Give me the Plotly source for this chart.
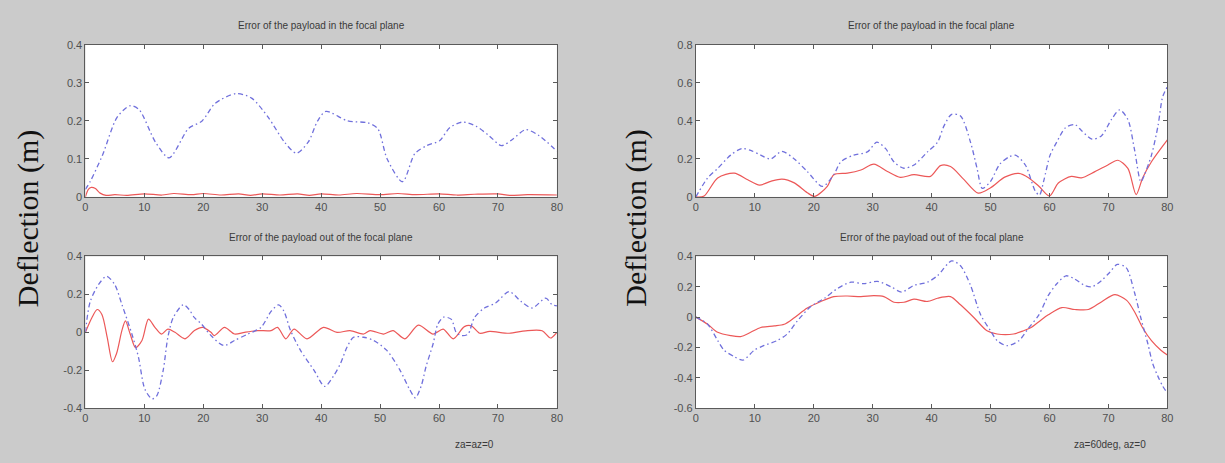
import plotly.graph_objects as go

# ---------------- data ----------------
x_ticks = [0, 10, 20, 30, 40, 50, 60, 70, 80]

# Panel 1 (left top): in focal plane, za=az=0
p1_blue_x = [0, 0.8, 2.9, 5.4, 7.6, 9.1, 11.9, 14.2, 17.5, 19.8, 22, 25.6, 28.2, 31, 33.8, 35.8, 37.8, 39.4, 40.8,
             44.5, 47.9, 49.6, 51.2, 53.8, 55.9, 57.9, 60.1, 61.8, 64, 66.3, 68.5, 70.6, 72.5, 74.7, 77, 80]
p1_blue_y = [0.02, 0.04, 0.11, 0.21, 0.24, 0.23, 0.144, 0.103, 0.18, 0.2, 0.246, 0.272, 0.26, 0.21, 0.144, 0.115,
             0.144, 0.2, 0.225, 0.2, 0.195, 0.18, 0.1, 0.04, 0.114, 0.135, 0.148, 0.182, 0.197, 0.186, 0.161, 0.135,
             0.152, 0.177, 0.161, 0.12]
p1_red_x = [0, 0.5, 1, 1.7, 2.5, 3.5, 5, 7, 10, 13, 15, 18, 20, 23, 26, 28, 30, 33, 36, 38, 40, 43, 46, 50, 53,
            56, 60, 63, 66, 70, 72, 75, 80]
p1_red_y = [0.0, 0.02, 0.025, 0.022, 0.01, 0.004, 0.006, 0.004, 0.008, 0.005, 0.009, 0.006, 0.009, 0.005, 0.008,
            0.004, 0.008, 0.005, 0.008, 0.004, 0.008, 0.005, 0.009, 0.006, 0.009, 0.006, 0.008, 0.005, 0.007,
            0.008, 0.004, 0.006, 0.005]

# Panel 2 (left bottom): out of focal plane, za=az=0
p2_blue_x = [0, 0.8, 2.2, 3.6, 5, 6.2, 7.9, 9, 10.1, 11.3, 12.1, 13.2, 14, 14.9, 16.6, 17.6, 18.5, 19.7, 21.3,
             23.5, 25.3, 27.5, 29.8, 31.5, 32.8, 33.7, 34.8, 36.5, 38.8, 40.6, 42.1, 43.3, 44.4, 45.5, 47.2, 48.9,
             51.1, 53.4, 55, 56, 57, 57.8, 59, 59.8, 60.8, 62.1, 62.9, 63.8, 64.9, 66, 67.7, 69.6, 71.9, 73.9,
             75.8, 78.1, 79.2, 80]
p2_blue_y = [0, 0.16, 0.25, 0.295, 0.25, 0.146, -0.01, -0.13, -0.30, -0.35, -0.335, -0.2, -0.025, 0.077, 0.145,
             0.12, 0.077, 0.043, -0.017, -0.07, -0.043, -0.01, 0.026, 0.11, 0.145, 0.11, 0.01, -0.095, -0.2,
             -0.285, -0.23, -0.163, -0.077, -0.026, -0.026, -0.043, -0.094, -0.2, -0.3, -0.345, -0.28, -0.18,
             -0.06, 0.043, 0.08, 0.068, 0.0, -0.017, -0.01, 0.077, 0.128, 0.154, 0.214, 0.163, 0.128, 0.18,
             0.145, 0.14]
p2_red_x = [0, 1.1, 2, 2.8, 3.7, 4.6, 5.3, 6.2, 6.8, 7.6, 8.5, 9.6, 10.7, 11.8, 12.9, 14, 15.2, 16.9, 18.5, 19.9,
            21.3, 21.9, 23.6, 25.3, 27, 29.2, 31.5, 32.6, 34, 35.4, 37.6, 40.4, 42.7, 44.9, 47.2, 48.3, 50.6,
            52.2, 54.2, 56.5, 59, 60.7, 62.4, 64.3, 65.5, 66.9, 68.6, 71.9, 74.7, 77.5, 78.9, 80]
p2_red_y = [0, 0.077, 0.12, 0.094, -0.026, -0.155, -0.11, 0.01, 0.06, -0.009, -0.08, -0.043, 0.069, 0.026,
            -0.009, 0.017, 0, -0.034, 0.009, 0.026, 0, -0.017, 0.026, -0.009, 0, 0.009, 0.009, 0.026, -0.034,
            0.017, -0.034, 0.026, 0, 0.009, -0.009, 0.009, -0.009, 0.009, -0.034, 0.038, -0.009, 0.017, -0.034,
            0.03, 0.034, -0.005, 0.005, -0.005, 0.008, 0.008, -0.03, 0.0]

# Panel 3 (right top): in focal plane, za=60deg, az=0
p3_blue_x = [0, 2, 3.7, 5.9, 7.8, 9.3, 11, 12.7, 14.6, 16.7, 18.9, 21.5, 23.4, 24.6, 26.8, 29.1, 30.7, 32.2,
             33.6, 35.3, 37, 39.3, 41, 42.1, 43.4, 44.9, 46.6, 47.7, 48.6, 50, 51.5, 53.1, 54.2, 55.9, 57.6,
             58.3, 59, 60.1, 61.2, 62.7, 64.3, 65.5, 67.2, 68.8, 70.5, 71.9, 73.3, 74.4, 75.5, 76.1, 77.3, 78.4,
             79.2, 80]
p3_blue_y = [0, 0.1, 0.15, 0.22, 0.255, 0.245, 0.22, 0.2, 0.24, 0.2, 0.134, 0.055, 0.117, 0.185, 0.22, 0.237,
             0.288, 0.254, 0.185, 0.151, 0.168, 0.237, 0.288, 0.374, 0.435, 0.426, 0.288, 0.151, 0.045, 0.082,
             0.17, 0.21, 0.22, 0.168, 0.03, 0.01, 0.082, 0.22, 0.287, 0.364, 0.381, 0.347, 0.304, 0.321, 0.407,
             0.458, 0.407, 0.253, 0.08, 0.116, 0.22, 0.373, 0.527, 0.58]
p3_red_x = [0, 1.4, 3.7, 6.5, 8.8, 10.8, 12.7, 14.6, 16.7, 18.9, 20.2, 22.3, 23.4, 25.7, 28, 30.2, 32.5, 34.7,
            37, 39.8, 41.5, 43.2, 45.5, 47.9, 50, 52.4, 54.8, 56.5, 58.2, 60, 61.5, 63.7, 65.4, 67.7, 69.9, 71.6,
            73.3, 74.7, 75.8, 77.3, 80]
p3_red_y = [0, 0.005, 0.1, 0.125, 0.09, 0.062, 0.082, 0.094, 0.074, 0.022, 0.003, 0.056, 0.117, 0.125, 0.142,
            0.173, 0.134, 0.103, 0.117, 0.108, 0.165, 0.16, 0.091, 0.02, 0.048, 0.104, 0.124, 0.1, 0.056, 0.005,
            0.073, 0.108, 0.1, 0.133, 0.168, 0.193, 0.15, 0.012, 0.1, 0.185, 0.3]

# Panel 4 (right bottom): out of focal plane, za=60deg, az=0
p4_blue_x = [0, 2, 3.7, 4.8, 6.5, 8, 9.9, 11.6, 13.8, 15.5, 17.2, 19.5, 21.8, 24, 26.3, 28.5, 30.8, 33.1, 34.9,
             37, 39.3, 41, 43.4, 44.9, 46.6, 48.3, 50, 51.1, 52.8, 54.8, 56.5, 58.2, 59.8, 61.2, 62.8, 64.3, 66,
             67.2, 68.8, 70.2, 71.5, 73, 74.4, 75.5, 76.7, 77.5, 78.4, 79.2, 80]
p4_blue_y = [0, -0.047, -0.154, -0.218, -0.26, -0.283, -0.218, -0.186, -0.154, -0.111, -0.026, 0.07, 0.124,
             0.188, 0.23, 0.22, 0.235, 0.2, 0.165, 0.209, 0.23, 0.273, 0.37, 0.338, 0.209, 0.017, -0.09, -0.154,
             -0.188, -0.155, -0.07, 0.015, 0.143, 0.218, 0.272, 0.25, 0.208, 0.2, 0.24, 0.294, 0.347, 0.326,
             0.165, -0.006, -0.177, -0.305, -0.39, -0.454, -0.5]
p4_red_x = [0, 2, 3.7, 5.9, 7.6, 9.3, 11, 13.3, 15, 16.7, 18.9, 21.2, 23.4, 25.7, 28, 30.2, 31.9, 33.6, 35.3, 37,
            39.3, 41, 43.2, 44.9, 47.2, 49.4, 51.1, 53.9, 55.6, 56.8, 58.2, 59.8, 62.1, 64.3, 66.6, 68.8, 71.1,
            73.1, 74.4, 75.8, 77.3, 78.9, 80]
p4_red_y = [0, -0.047, -0.1, -0.122, -0.128, -0.1, -0.068, -0.058, -0.047, -0.004, 0.06, 0.103, 0.135, 0.139,
            0.135, 0.141, 0.135, 0.098, 0.098, 0.118, 0.103, 0.124, 0.135, 0.081, -0.004, -0.09, -0.111, -0.111,
            -0.09, -0.07, -0.03, 0.015, 0.063, 0.05, 0.05, 0.1, 0.148, 0.11, 0.037, -0.07, -0.155, -0.218, -0.25]

y1_ticks = [0, 0.1, 0.2, 0.3, 0.4]
y1_labels = ["0", "0.1", "0.2", "0.3", "0.4"]
y2_ticks = [-0.4, -0.2, 0, 0.2, 0.4]
y2_labels = ["-0.4", "-0.2", "0", "0.2", "0.4"]
y3_ticks = [0, 0.2, 0.4, 0.6, 0.8]
y3_labels = ["0", "0.2", "0.4", "0.6", "0.8"]
y4_ticks = [-0.6, -0.4, -0.2, 0, 0.2, 0.4]
y4_labels = ["-0.6", "-0.4", "-0.2", "0", "0.2", "0.4"]

title_in = "Error of the payload in the focal plane"
title_out = "Error of the payload out of the focal plane"
ylabel = "Deflection (m)"
cond_left = "za=az=0"
cond_right = "za=60deg, az=0"

# ---------------- figure ----------------
W, H = 1225, 463
BLUE = "rgb(112,112,220)"
RED = "rgb(236,88,88)"

fig = go.Figure()

panels = [
    (p1_blue_x, p1_blue_y, p1_red_x, p1_red_y, "x", "y"),
    (p2_blue_x, p2_blue_y, p2_red_x, p2_red_y, "x2", "y2"),
    (p3_blue_x, p3_blue_y, p3_red_x, p3_red_y, "x3", "y3"),
    (p4_blue_x, p4_blue_y, p4_red_x, p4_red_y, "x4", "y4"),
]
for bx, by, rx, ry, xa, ya in panels:
    fig.add_trace(go.Scatter(x=rx, y=ry, mode="lines", xaxis=xa, yaxis=ya, showlegend=False,
                             line=dict(color=RED, width=1.2, shape="spline", smoothing=0.8)))
    fig.add_trace(go.Scatter(x=bx, y=by, mode="lines", xaxis=xa, yaxis=ya, showlegend=False,
                             line=dict(color=BLUE, width=1.3, dash="5px,3px,1.5px,3px",
                                       shape="spline", smoothing=0.8)))

xl = [83 / W, 558 / W]
xr = [698 / W, 1173 / W]
yt = [(H - 196) / H, (H - 40) / H]
yb = [(H - 413) / H, (H - 257) / H]

axis_common = dict(showgrid=False, zeroline=False, showline=True, linecolor="#5a5a5a", linewidth=1,
                   mirror="ticks", ticks="inside", ticklen=4, tickcolor="#5a5a5a", tickwidth=1,
                   tickfont=dict(family="Liberation Sans, Arial, sans-serif", size=11, color="#505050"))

def xaxis(domain, anchor):
    return dict(domain=domain, anchor=anchor, range=[0, 80], tickvals=x_ticks,
                ticktext=[str(v) for v in x_ticks], **axis_common)

def yaxis(domain, anchor, rng, vals, labels):
    return dict(domain=domain, anchor=anchor, range=rng, tickvals=vals, ticktext=labels, **axis_common)

fig.update_layout(
    width=W, height=H,
    margin=dict(l=0, r=0, t=0, b=0),
    paper_bgcolor="#cbcbcb",
    plot_bgcolor="white",
    xaxis=xaxis(xl, "y"), yaxis=yaxis(yt, "x", [0, 0.4], y1_ticks, y1_labels),
    xaxis2=xaxis(xl, "y2"), yaxis2=yaxis(yb, "x2", [-0.4, 0.4], y2_ticks, y2_labels),
    xaxis3=xaxis(xr, "y3"), yaxis3=yaxis(yt, "x3", [0, 0.8], y3_ticks, y3_labels),
    xaxis4=xaxis(xr, "y4"), yaxis4=yaxis(yb, "x4", [-0.6, 0.4], y4_ticks, y4_labels),
)

tfont = dict(family="Liberation Sans, Arial, sans-serif", size=10, color="#3a3a3a")
lfont = dict(family="Liberation Serif, Times New Roman, serif", size=30, color="#111111")
annos = [
    dict(text=title_in, x=(xl[0] + xl[1]) / 2, y=(H - 20) / H, font=tfont),
    dict(text=title_out, x=(xl[0] + xl[1]) / 2, y=(H - 238) / H, font=tfont),
    dict(text=title_in, x=(xr[0] + xr[1]) / 2, y=(H - 20) / H, font=tfont),
    dict(text=title_out, x=(xr[0] + xr[1]) / 2, y=(H - 238) / H, font=tfont),
    dict(text=cond_left, x=475 / W, y=(H - 450) / H, font=tfont),
    dict(text=cond_right, x=1115 / W, y=(H - 450) / H, font=tfont),
    dict(text=ylabel, x=26 / W, y=(H - 218) / H, font=lfont, textangle=-90),
    dict(text=ylabel, x=638 / W, y=(H - 218) / H, font=lfont, textangle=-90),
]
for a in annos:
    fig.add_annotation(xref="paper", yref="paper", showarrow=False, xanchor="center", yanchor="middle", **a)

fig.write_html("out.html", config={"displayModeBar": False},
               post_script="document.body.style.margin='0';document.body.style.padding='0';"
                           "document.body.style.overflow='hidden';")
